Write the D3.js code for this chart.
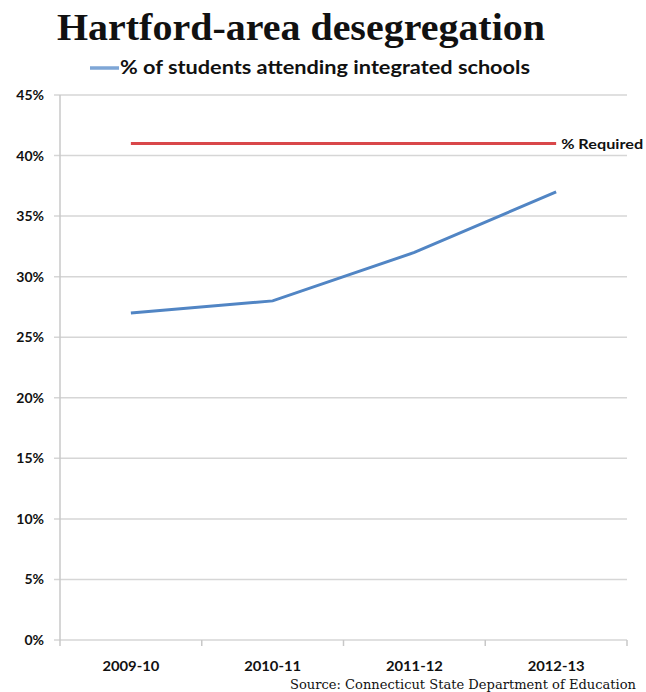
<!DOCTYPE html>
<html>
<head>
<meta charset="utf-8">
<script src="https://cdn.jsdelivr.net/npm/d3@7"></script>
<style>
  body { margin: 0; background: #fff; }
  svg text { fill: #111; }
</style>
</head>
<body>
<svg id="chart" width="646" height="692"></svg>
<script>
const seasons = ["2009-10", "2010-11", "2011-12", "2012-13"];
const integratedPct = [27, 28, 32, 37];
const requiredPct = [41, 41, 41, 41];
const yTicks = [0, 5, 10, 15, 20, 25, 30, 35, 40, 45];

const margin = { top: 95, right: 19, bottom: 52, left: 60 };
const width = 646 - margin.left - margin.right;
const height = 692 - margin.top - margin.bottom;

const svg = d3.select("#chart");
const g = svg.append("g").attr("transform", `translate(${margin.left},${margin.top})`);

const x = d3.scaleBand().domain(seasons).range([0, width]);
const y = d3.scaleLinear().domain([0, 45]).range([height, 0]);

const labelFont = "bold 14px Lato, 'Open Sans', sans-serif";

// gridlines
g.append("g").selectAll("line")
    .data(yTicks)
    .enter().append("line")
    .attr("x1", -6).attr("x2", width)
    .attr("y1", d => y(d)).attr("y2", d => y(d))
    .attr("stroke", "#d6d6d6")
    .attr("stroke-width", 1.5);

// y labels
g.append("g").selectAll("text")
    .data(yTicks)
    .enter().append("text")
    .attr("x", -16)
    .attr("y", d => y(d) + 5)
    .attr("text-anchor", "end")
    .style("font", labelFont)
    .text(d => d + "%");

// y axis line
g.append("line")
    .attr("x1", 0).attr("x2", 0).attr("y1", 0).attr("y2", height)
    .attr("stroke", "#c8c8c8").attr("stroke-width", 1.5);

// x axis ticks at band edges
const edges = seasons.map(s => x(s)).concat([width]);
g.append("g").selectAll("line")
    .data(edges)
    .enter().append("line")
    .attr("x1", d => d).attr("x2", d => d)
    .attr("y1", height).attr("y2", height + 6)
    .attr("stroke", "#c8c8c8").attr("stroke-width", 1.5);

g.append("g").selectAll("text")
    .data(seasons)
    .enter().append("text")
    .attr("x", d => x(d) + x.bandwidth() / 2)
    .attr("y", height + 31)
    .attr("text-anchor", "middle")
    .style("font", labelFont)
    .attr("textLength", 57)
    .attr("lengthAdjust", "spacingAndGlyphs")
    .text(d => d);

const line = d3.line()
    .x((d, i) => x(seasons[i]) + x.bandwidth() / 2)
    .y(d => y(d));

g.append("path")
    .datum(requiredPct)
    .attr("fill", "none")
    .attr("stroke", "#d9474a")
    .attr("stroke-width", 3)
    .attr("d", line);

g.append("path")
    .datum(integratedPct)
    .attr("fill", "none")
    .attr("stroke", "#5185c4")
    .attr("stroke-width", 3)
    .attr("d", line);

g.append("text")
    .attr("x", x(seasons[3]) + x.bandwidth() / 2 + 5)
    .attr("y", y(requiredPct[3]) + 6)
    .style("font", labelFont)
    .attr("textLength", 82)
    .attr("lengthAdjust", "spacingAndGlyphs")
    .text("% Required");

// title and legend
svg.append("text")
    .attr("x", 301)
    .attr("y", 40)
    .attr("text-anchor", "middle")
    .style("font", "bold 37px 'Liberation Serif', serif")
    .attr("textLength", 488)
    .attr("lengthAdjust", "spacingAndGlyphs")
    .text("Hartford-area desegregation");

svg.append("line")
    .attr("x1", 90).attr("x2", 119).attr("y1", 68).attr("y2", 68)
    .attr("stroke", "#7ea6d6").attr("stroke-width", 3.5);

svg.append("text")
    .attr("x", 120)
    .attr("y", 74)
    .style("font", "bold 19px Lato, 'Open Sans', sans-serif")
    .attr("textLength", 410)
    .attr("lengthAdjust", "spacingAndGlyphs")
    .text("% of students attending integrated schools");

svg.append("text")
    .attr("x", 636)
    .attr("y", 689)
    .attr("text-anchor", "end")
    .style("font", "13px 'DejaVu Serif', serif")
    .attr("textLength", 346)
    .attr("lengthAdjust", "spacingAndGlyphs")
    .text("Source: Connecticut State Department of Education");
</script>
</body>
</html>
